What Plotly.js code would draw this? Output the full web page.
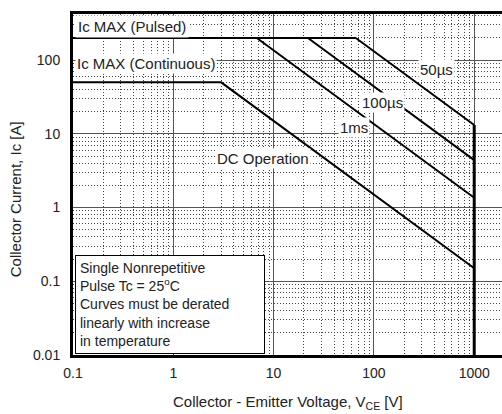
<!DOCTYPE html>
<html>
<head>
<meta charset="utf-8">
<script src="https://cdn.plot.ly/plotly-3.0.1.min.js"></script>
<style>
html,body{margin:0;padding:0;background:#fff;}
#chart{width:502px;height:414px;}
</style>
</head>
<body>
<div id="chart"></div>
<script>
// ---- data (V in volts, I in amperes) ----
const pulsedV = [0.1, 66];
const pulsedI = [200, 200];
const us50V = [66, 1000];
const us50I = [200, 13.2];
const us100V = [22, 1000];
const us100I = [200, 4.4];
const ms1V = [6.8, 1000];
const ms1I = [200, 1.36];
const dcV = [0.1, 3, 1000];
const dcI = [50, 50, 0.15];
const limitV = [1000, 1000];
const limitI = [13.2, 0.01];

const xTickVals = [0.1, 1, 10, 100, 1000];
const xTickText = ['0.1', '1', '10', '100', '1000'];
const yTickVals = [0.01, 0.1, 1, 10, 100];
const yTickText = ['0.01', '0.1', '1', '10', '100'];

const FONT = 'Arial, "Liberation Sans", sans-serif';

function line(x, y, w) {
  return {x: x, y: y, type: 'scatter', mode: 'lines',
          line: {color: '#000', width: w}, hoverinfo: 'skip', showlegend: false};
}

const traces = [
  line(pulsedV, pulsedI, 2),
  line(us50V, us50I, 2),
  line(us100V, us100I, 2),
  line(ms1V, ms1I, 2),
  line(dcV, dcI, 2),
  line(limitV, limitI, 3)
];

function lab(text, x, y, opts) {
  return Object.assign({text: text, x: x, y: y, xref: 'x', yref: 'y', showarrow: false,
    font: {family: FONT, size: 15, color: '#222'}, bgcolor: '#fff', borderpad: 1}, opts || {});
}

const minorGrid = {dtick: 'D1', showgrid: true, gridcolor: '#444', griddash: '1px,2px', gridwidth: 1, ticks: ''};

const layout = {
  width: 502, height: 414,
  margin: {l: 73, r: 0, t: 14, b: 59},
  paper_bgcolor: '#fff', plot_bgcolor: '#fff',
  font: {family: FONT, size: 14, color: '#222'},
  showlegend: false,
  xaxis: {
    type: 'log', range: [-1, 3.277],
    tickmode: 'array', tickvals: xTickVals, ticktext: xTickText,
    ticks: '', ticklabelstandoff: 3,
    showline: true, mirror: true, linecolor: '#000', linewidth: 3,
    showgrid: true, gridcolor: '#555', gridwidth: 1,
    minor: minorGrid,
    zeroline: false, tickfont: {family: FONT, size: 14, color: '#222'}
  },
  yaxis: {
    type: 'log', range: [-2, 2.626],
    tickmode: 'array', tickvals: yTickVals, ticktext: yTickText,
    ticks: '', ticklabelstandoff: 7,
    showline: true, mirror: false, linecolor: '#000', linewidth: 3,
    showgrid: true, gridcolor: '#555', gridwidth: 1,
    minor: minorGrid,
    zeroline: false, tickfont: {family: FONT, size: 14, color: '#222'}
  },
  annotations: [
    lab('Ic MAX (Pulsed)', -1, 2.46, {xanchor: 'left', xshift: 2, borderpad: 2}),
    lab('Ic MAX (Continuous)', -1, 1.96, {xanchor: 'left', xshift: 2}),
    lab('50\u00b5s', 2.619, 1.878),
    lab('100\u00b5s', 2.081, 1.43),
    lab('1ms', 1.802, 1.091),
    lab('DC Operation', 0.894, 0.67),
    {text: 'Single Nonrepetitive<br>Pulse Tc = 25<sup>o</sup>C<br>Curves must be derated<br>linearly with increase<br>in temperature',
     xref: 'paper', yref: 'paper', x: 0.005, y: 0.004, xanchor: 'left', yanchor: 'bottom',
     align: 'left', showarrow: false, bgcolor: '#fff', bordercolor: '#000', borderwidth: 1,
     borderpad: 4, width: 180, font: {family: FONT, size: 14, color: '#222'}},
    {text: 'Collector - Emitter Voltage, V<sub>CE</sub> [V]', xref: 'paper', yref: 'paper',
     x: 0.502, y: -0.138, xanchor: 'center', yanchor: 'middle', showarrow: false,
     font: {family: FONT, size: 15, color: '#222'}},
    {text: 'Collector Current, Ic [A]', xref: 'paper', yref: 'paper', textangle: -90,
     x: -0.135, y: 0.457, xanchor: 'center', yanchor: 'middle', showarrow: false,
     font: {family: FONT, size: 15, color: '#222'}}
  ]
};

Plotly.newPlot('chart', traces, layout, {staticPlot: true, displayModeBar: false});
</script>
</body>
</html>
